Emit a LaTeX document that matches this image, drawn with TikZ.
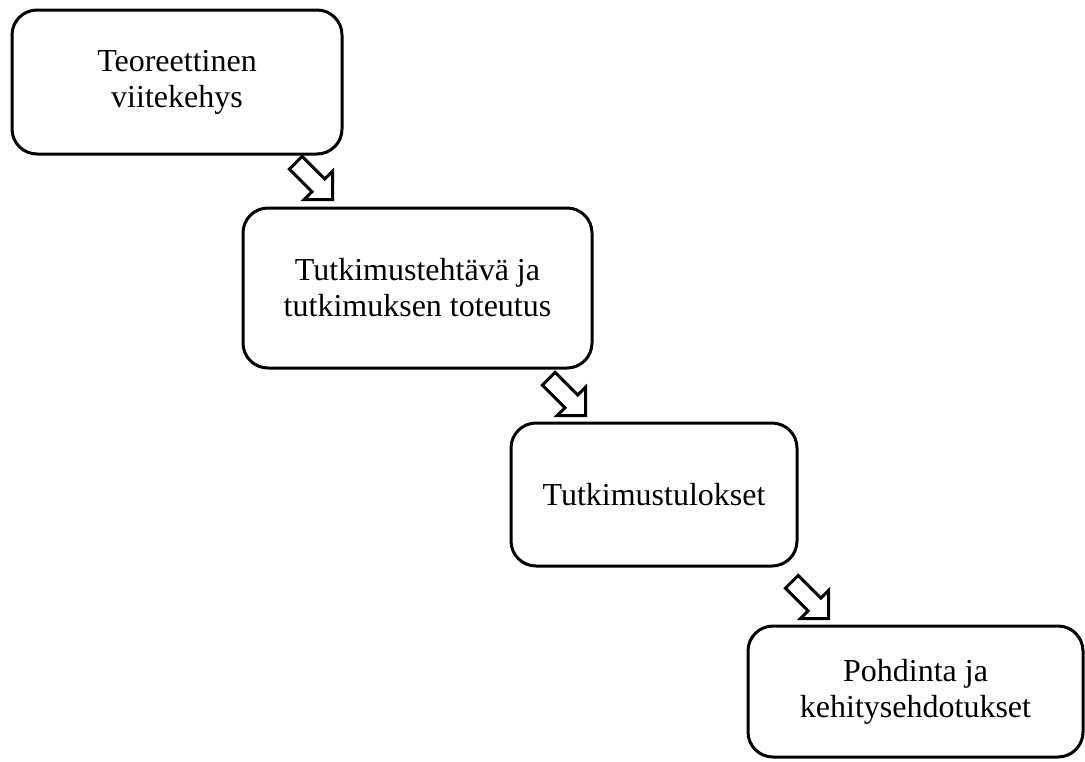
\documentclass[tikz,border=0pt]{standalone}
\usepackage{fontspec}
\setmainfont{Liberation Serif}
\usetikzlibrary{shapes.arrows}

\begin{document}
\begin{tikzpicture}[
    x=0.5pt, y=-0.5pt,
    phase/.style={draw=black, line width=1.5pt, rounded corners=12.5pt, fill=white,
                  align=center, font=\fontsize{16}{18}\selectfont},
    flow/.style={single arrow, draw=black, line width=1.5pt, fill=white, rotate=-45,
                 inner xsep=0pt, inner ysep=3.75pt, minimum height=26pt,
                 single arrow head extend=5.5pt}
  ]
    \useasboundingbox (0,0) rectangle (1085,761);

    \node[phase, minimum width=165pt, minimum height=72pt]   (teoria)  at (177,82)
      {Teoreettinen\\viitekehys};
    \node[phase, minimum width=174.5pt, minimum height=80pt] (tehtava) at (417.5,288)
      {Tutkimustehtävä ja\\tutkimuksen toteutus};
    \node[phase, minimum width=143pt, minimum height=71.5pt] (tulos)   at (654,494.5)
      {Tutkimustulokset};
    \node[phase, minimum width=167.5pt, minimum height=65.5pt] (pohdinta) at (915.5,691.5)
      {Pohdinta ja\\kehitysehdotukset};

    % block arrows between the phases
    \node[flow] (f1) at (311,178) {};
    \node[flow] (f2) at (564,394) {};
    \node[flow] (f3) at (807,597) {};
  \end{tikzpicture}
\end{document}
